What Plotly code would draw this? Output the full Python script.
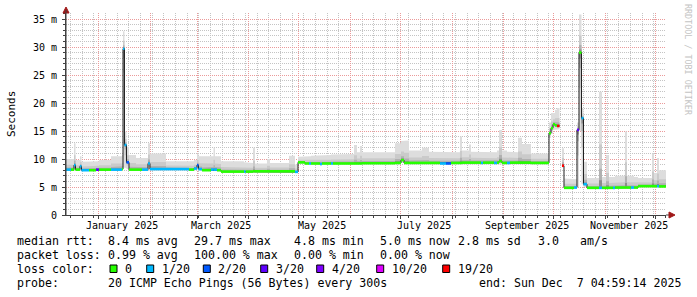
import plotly.graph_objects as go
import pandas as pd

# ---------------- data ----------------
t_start = "2024-12-12 04:59:14"
t_end = "2025-12-07 04:59:14"

seg_start = [
 "2024-12-12 04:59", "2024-12-15 05:00", "2024-12-17 00:00", "2024-12-17 22:00",
 "2024-12-20 14:00", "2024-12-21 12:00", "2024-12-26 00:00", "2024-12-30 05:00",
 "2025-01-01 00:00", "2025-01-08 05:00", "2025-01-14 19:00", "2025-01-15 10:00",
 "2025-01-16 07:00", "2025-01-17 12:00", "2025-01-19 00:00", "2025-01-23 05:00",
 "2025-01-26 19:00", "2025-01-30 10:00", "2025-01-31 14:00", "2025-02-10 05:00",
 "2025-02-24 00:00", "2025-02-27 00:00", "2025-02-28 19:00", "2025-03-01 17:00",
 "2025-03-03 19:00", "2025-03-09 05:00", "2025-03-10 17:00", "2025-03-11 14:00",
 "2025-03-12 19:00", "2025-03-15 05:00", "2025-03-29 00:00", "2025-03-29 22:00",
 "2025-04-03 10:00", "2025-04-04 14:00", "2025-04-11 19:00", "2025-04-13 14:00",
 "2025-04-25 00:00", "2025-04-28 14:00", "2025-04-30 10:00", "2025-05-04 14:00",
 "2025-05-07 00:00", "2025-05-08 05:00", "2025-05-13 14:00", "2025-05-14 19:00",
 "2025-05-20 05:00", "2025-05-21 10:00", "2025-06-03 00:00", "2025-06-04 19:00",
 "2025-06-06 14:00", "2025-06-07 19:00", "2025-06-27 14:00", "2025-07-01 05:00",
 "2025-07-03 00:00", "2025-07-06 00:00", "2025-07-13 19:00", "2025-07-18 00:00",
 "2025-07-24 14:00", "2025-07-28 05:00", "2025-07-31 05:00", "2025-08-05 14:00",
 "2025-08-06 19:00", "2025-08-11 00:00", "2025-08-12 05:00", "2025-08-18 05:00",
 "2025-08-19 10:00", "2025-08-26 00:00", "2025-08-27 19:00", "2025-08-29 00:00",
 "2025-08-30 19:00", "2025-09-02 19:00", "2025-09-04 14:00", "2025-09-09 10:00",
 "2025-09-11 19:00", "2025-09-17 05:00", "2025-09-28 00:00", "2025-09-29 05:00",
 "2025-09-30 10:00", "2025-10-01 14:00", "2025-10-02 19:00", "2025-10-04 07:00",
 "2025-10-05 19:00", "2025-10-07 00:00", "2025-10-13 00:00", "2025-10-14 19:00",
 "2025-10-16 00:00", "2025-10-17 12:00", "2025-10-18 17:00", "2025-10-20 19:00",
 "2025-10-28 00:00", "2025-10-29 19:00", "2025-11-01 05:00", "2025-11-03 00:00",
 "2025-11-05 10:00", "2025-11-06 14:00", "2025-11-12 14:00", "2025-11-13 19:00",
 "2025-11-16 05:00", "2025-11-18 00:00", "2025-11-20 10:00", "2025-11-28 19:00",
 "2025-11-30 00:00", "2025-12-01 19:00", "2025-12-03 00:00"]

# median rtt (ms)
seg_median = [
 8.1, 8.1, 8.9, 8.1, 8.7, 8.0, 8.0, 8.1,
 8.1, 8.1, 8.2, 29.7, 12.5, 9.4, 8.1, 8.1,
 8.1, 9.2, 8.2, 8.2, 8.1, 8.3, 8.9, 8.2,
 8.0, 8.1, 8.1, 8.1, 8.0, 7.75, 7.75, 7.75,
 7.8, 7.8, 7.8, 7.8, 7.8, 7.7, 9.4, 9.2,
 9.2, 9.2, 9.1, 9.2, 9.2, 9.2, 9.2, 9.2,
 9.2, 9.25, 9.3, 9.8, 9.3, 9.3, 9.3, 9.3,
 9.2, 9.2, 9.3, 9.3, 9.35, 9.35, 9.35, 9.3,
 9.35, 9.3, 9.35, 9.6, 9.3, 9.3, 9.35, 9.35,
 9.35, 9.3, 14.6, 15.5, 16.2, 16.0, 15.9, None,
 8.8, 4.85, 4.9, 15.2, 29.0, 17.3, 5.5, 4.85,
 4.85, 4.85, 4.85, 4.85, 4.85, 4.9, 4.9, 4.9,
 4.9, 4.9, 5.15, 5.15, 5.15, 5.15, 5.1]

# fastest ping (ms)
seg_lo = [
 7.9, 7.9, 7.9, 7.9, 7.9, 7.8, 7.8, 7.9,
 7.9, 7.9, 7.9, 8.5, 8.4, 8.2, 7.9, 7.9,
 7.9, 8.0, 7.9, 7.9, 7.9, 7.9, 8.0, 7.9,
 7.8, 7.8, 7.8, 7.8, 7.8, 7.55, 7.55, 7.55,
 7.55, 7.55, 7.55, 7.55, 7.55, 7.5, 9.1, 9.0,
 9.0, 9.0, 8.9, 9.0, 9.0, 9.0, 9.0, 9.0,
 9.0, 9.0, 9.0, 9.3, 9.0, 9.0, 9.0, 9.0,
 9.0, 9.0, 9.0, 9.0, 9.0, 9.0, 9.0, 9.0,
 9.0, 9.0, 9.0, 9.0, 9.0, 9.0, 9.0, 9.0,
 9.0, 9.0, 13.8, 14.5, 15.2, 15.3, 15.3, None,
 8.5, 4.7, 4.7, 5.0, 15.0, 5.5, 5.0, 4.7,
 4.7, 4.7, 4.7, 4.7, 4.7, 4.7, 4.7, 4.7,
 4.7, 4.7, 4.9, 4.9, 4.9, 4.9, 4.9]

# slowest ping (ms)
seg_hi = [
 10.0, 10.0, 12.8, 9.8, 10.5, 9.5, 9.5, 9.6,
 9.8, 10.5, 10.7, 32.8, 14.9, 12.2, 10.7, 10.2,
 10.2, 12.8, 11.0, 9.6, 9.6, 9.8, 11.0, 10.5,
 10.5, 10.5, 12.0, 10.5, 10.5, 9.6, 9.4, 9.3,
 12.0, 9.2, 10.0, 9.3, 10.6, 9.0, 10.4, 10.5,
 10.5, 10.6, 10.6, 10.7, 10.8, 10.9, 12.5, 11.2,
 12.3, 11.2, 12.8, 13.2, 13.3, 11.5, 12.0, 11.3,
 11.2, 11.2, 11.2, 14.0, 11.5, 12.6, 11.3, 11.3,
 11.2, 11.2, 11.5, 15.2, 11.5, 11.3, 11.2, 13.8,
 12.7, 11.0, 16.5, 18.2, 18.2, 18.8, 19.1, None,
 11.9, 6.5, 6.4, 16.5, 35.8, 19.0, 9.5, 6.6,
 22.0, 6.8, 10.7, 6.8, 6.8, 7.0, 14.9, 7.0,
 7.0, 6.8, 6.6, 11.0, 7.5, 10.2, 8.0]

# lost pings out of 20
seg_loss = [
 1, 0, 1, 0, 1, 1, 0, 3,
 0, 1, 0, 1, 1, 2, 0, 0,
 1, 1, 1, 1, 0, 1, 2, 1,
 0, 1, 1, 1, 0, 0, 1, 0,
 0, 0, 0, 0, 0, 1, 0, 0,
 1, 0, 1, 0, 1, 0, 0, 0,
 0, 0, 0, 0, 0, 0, 0, 0,
 1, 2, 0, 0, 0, 0, 0, 1,
 0, 1, 0, 0, 0, 1, 0, 0,
 0, 0, 0, 0, 0, 0, 19, None,
 19, 0, 1, 3, 0, 1, 1, 0,
 1, 0, 0, 0, 1, 0, 0, 0,
 1, 0, 0, 0, 0, 1, 0]

loss_levels = [0, 1, 2, 3, 4, 10, 19]
loss_labels = ["0", "1/20", "2/20", "3/20", "4/20", "10/20", "19/20"]
loss_colors = ["#26ff00", "#00b8ff", "#0059ff", "#5e00ff", "#7e00ff", "#dd00ff", "#ff0000"]

y_tick_vals = [0, 5, 10, 15, 20, 25, 30, 35]
y_tick_text = ["0", "5 m", "10 m", "15 m", "20 m", "25 m", "30 m", "35 m"]
month_label_dates = ["2025-01-15", "2025-03-15", "2025-05-15", "2025-07-15", "2025-09-15", "2025-11-15"]
month_label_text = ["January 2025", "March 2025", "May 2025", "July 2025", "September 2025", "November 2025"]

stats_rows = [
    [("median rtt:", 16), ("8.4 ms avg", 107), ("29.7 ms max", 193), ("4.8 ms min", 293),
     ("5.0 ms now", 379), ("2.8 ms sd", 457), ("3.0", 537), ("am/s", 579)],
    [("packet loss:", 16), ("0.99 % avg", 107), ("100.00 % max", 193), ("0.00 % min", 293),
     ("0.00 % now", 379)],
    [("loss color:", 16)],
    [("probe:", 16), ("20 ICMP Echo Pings (56 Bytes) every 300s", 107),
     ("end: Sun Dec\u00a0\u00a07 04:59:14 2025", 478)],
]
row_y = [241, 255, 269, 283]
swatch_left = [110, 146.7, 203.3, 260.7, 316.7, 376.7, 442.7]

# ---------------- geometry helpers ----------------
W, H = 697, 297
L, R, T, B = 66, 666, 13, 215
YMAX = 35 + (19 - 13) / 5.6


def px(x):
    return (x - L) / (R - L)


def py(y):
    return (B - y) / (B - T)


t0 = [pd.Timestamp(s) for s in seg_start]
t1 = t0[1:] + [pd.Timestamp(t_end)]
n = len(t0)


def loss_color(v):
    c = loss_colors[0]
    for lv, col in zip(loss_levels, loss_colors):
        if v >= lv:
            c = col
    return c


runs, cur = [], []
for i in range(n):
    if seg_median[i] is None:
        if cur:
            runs.append(cur)
        cur = []
    else:
        cur.append(i)
if cur:
    runs.append(cur)

fig = go.Figure()

# smoke layers (outer light -> inner dark)
smoke_frac = [1.0, 0.45, 0.2, 0.08]
smoke_col = ["#dddddd", "#cacaca", "#b0b0b0", "#8c8c8c"]
for f, col in zip(smoke_frac, smoke_col):
    xs, ys = [], []
    for run in runs:
        ux, uy, lx, ly = [], [], [], []
        for i in run:
            m = seg_median[i]
            top = m + f * (seg_hi[i] - m)
            bot = m - f * (m - seg_lo[i])
            ux += [t0[i], t1[i]]
            uy += [top, top]
            lx += [t0[i], t1[i]]
            ly += [bot, bot]
        xs += ux + lx[::-1] + [None]
        ys += uy + ly[::-1] + [None]
    fig.add_trace(go.Scatter(x=xs, y=ys, mode="lines", fill="toself", fillcolor=col,
                             line=dict(width=0, color=col), hoverinfo="skip", showlegend=False))

# black median step line
bx, by = [], []
for run in runs:
    for i in run:
        bx += [t0[i], t1[i]]
        by += [seg_median[i], seg_median[i]]
    bx.append(None)
    by.append(None)
fig.add_trace(go.Scatter(x=bx, y=by, mode="lines", line=dict(color="#202020", width=1),
                         hoverinfo="skip", showlegend=False))

# coloured median by loss
for lv, col in zip(loss_levels, loss_colors):
    cx, cy = [], []
    for i in range(n):
        if seg_median[i] is None:
            continue
        if loss_color(seg_loss[i]) == col:
            cx += [t0[i], t1[i], None]
            cy += [seg_median[i], seg_median[i], None]
    if cx:
        fig.add_trace(go.Scatter(x=cx, y=cy, mode="lines", line=dict(color=col, width=2.6),
                                 hoverinfo="skip", showlegend=False))

month_starts = list(pd.date_range("2025-01-01", "2025-12-01", freq="MS"))
week_starts = list(pd.date_range("2024-12-15", t_end, freq="7D"))

MONO = "DejaVu Sans Mono"
grid_gray = "#c4c4c4"
grid_red = "#eb9a9a"
axis_col = "#404040"

fig.update_layout(
    width=W, height=H,
    margin=dict(l=L, r=W - R, t=T, b=H - B),
    paper_bgcolor="white", plot_bgcolor="white",
    showlegend=False,
    font=dict(family=MONO, size=10, color="black"),
    xaxis=dict(
        type="date", range=[t_start, t_end],
        tickmode="array", tickvals=month_starts, ticktext=[""] * len(month_starts),
        showgrid=True, gridcolor=grid_red, griddash="1px,1px", gridwidth=1,
        ticks="outside", ticklen=3, tickcolor=axis_col,
        minor=dict(tickmode="array", tickvals=week_starts, showgrid=True, gridcolor=grid_gray,
                   griddash="1px,1px", ticks="outside", ticklen=2, tickcolor=axis_col),
        showline=True, linecolor=axis_col, linewidth=1, zeroline=False, fixedrange=True,
    ),
    yaxis=dict(
        range=[0, YMAX], tickmode="array", tickvals=y_tick_vals, ticktext=y_tick_text,
        showgrid=True, gridcolor=grid_red, griddash="1px,1px", gridwidth=1,
        ticks="outside", ticklen=3, tickcolor=axis_col, ticklabelstandoff=3,
        minor=dict(dtick=1, showgrid=True, gridcolor=grid_gray, griddash="1px,1px",
                   ticks="outside", ticklen=2, tickcolor=axis_col),
        tickfont=dict(family=MONO, size=10, color="black"),
        showline=True, linecolor=axis_col, linewidth=1, zeroline=False, fixedrange=True,
    ),
)

ann = []
# month labels
for d, txt in zip(month_label_dates, month_label_text):
    ann.append(dict(x=d, y=py(225), xref="x", yref="paper", text=txt, showarrow=False,
                    xanchor="center", yanchor="middle", font=dict(family=MONO, size=10, color="black")))
# y title
ann.append(dict(x=px(11), y=py(114), xref="paper", yref="paper", text="Seconds", textangle=-90,
                showarrow=False, xanchor="center", yanchor="middle",
                font=dict(family=MONO, size=11, color="black")))
# watermark
ann.append(dict(x=px(688), y=py(60), xref="paper", yref="paper", text="RRDTOOL / TOBI OETIKER",
                textangle=90, showarrow=False, xanchor="center", yanchor="middle",
                font=dict(family=MONO, size=8.4, color="#c4c4c4")))
# stats text
for row, yy in zip(stats_rows, row_y):
    for txt, xx in row:
        ann.append(dict(x=px(xx - 1), y=py(yy), xref="paper", yref="paper", text=txt,
                        showarrow=False, xanchor="left", yanchor="middle",
                        font=dict(family=MONO, size=11.6, color="black")))
shapes = []
for lbl, col, sx in zip(loss_labels, loss_colors, swatch_left):
    shapes.append(dict(type="rect", xref="paper", yref="paper", x0=px(sx), x1=px(sx + 7),
                       y0=py(272.5), y1=py(265), fillcolor=col, line=dict(color="black", width=1)))
    ann.append(dict(x=px(sx + 13), y=py(269), xref="paper", yref="paper", text=lbl,
                    showarrow=False, xanchor="left", yanchor="middle",
                    font=dict(family=MONO, size=11.6, color="black")))

# axis arrows
arrow_col = "#a01818"
shapes.append(dict(type="path", xref="paper", yref="paper",
                   path=f"M {px(63)} {py(13)} L {px(69)} {py(13)} L {px(66)} {py(7)} Z",
                   fillcolor=arrow_col, line=dict(color=arrow_col, width=1)))
shapes.append(dict(type="line", xref="paper", yref="paper", x0=px(66), x1=px(66),
                   y0=py(215), y1=py(10), line=dict(color=axis_col, width=1)))
shapes.append(dict(type="line", xref="paper", yref="paper", x0=px(666), x1=px(670),
                   y0=py(215), y1=py(215), line=dict(color=axis_col, width=1)))
shapes.append(dict(type="path", xref="paper", yref="paper",
                   path=f"M {px(669)} {py(212)} L {px(669)} {py(218)} L {px(675)} {py(215)} Z",
                   fillcolor=arrow_col, line=dict(color=arrow_col, width=1)))

fig.update_layout(annotations=ann, shapes=shapes)
fig.write_html("out.html")
